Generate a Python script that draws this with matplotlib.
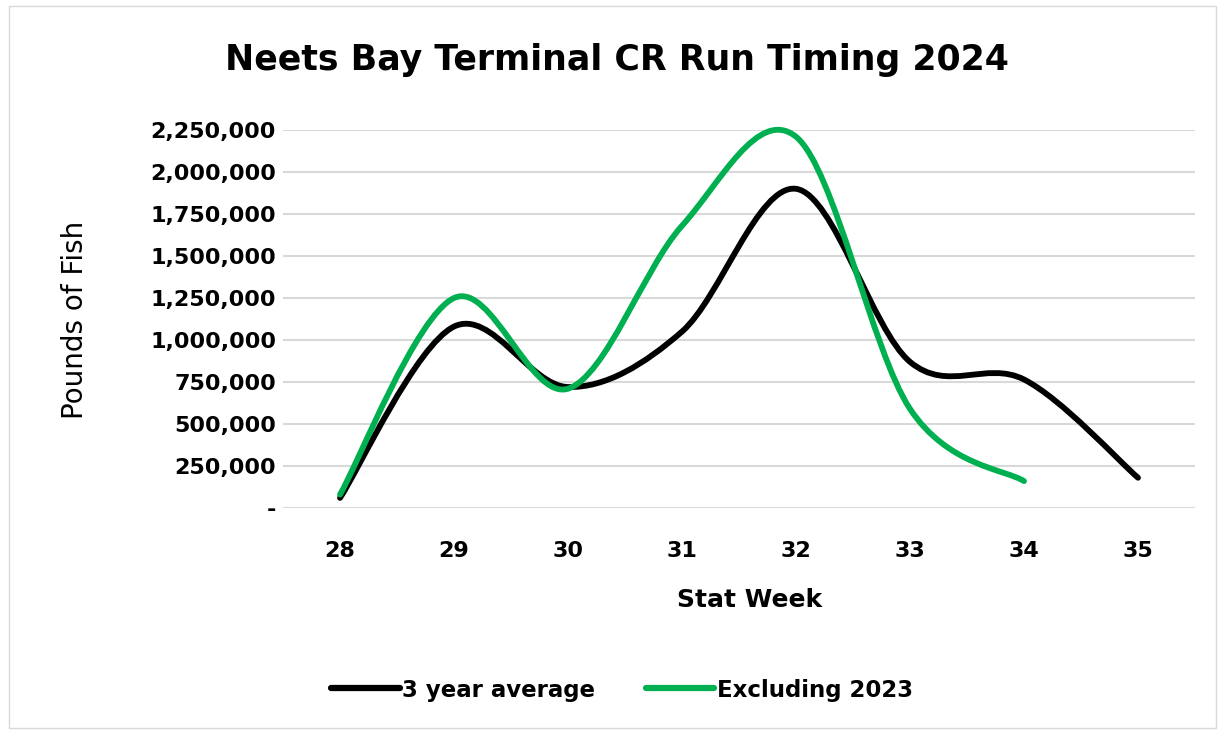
#!/usr/bin/env python3

import matplotlib
matplotlib.use('Agg')
import matplotlib.pyplot as plt
from matplotlib.path import Path
from matplotlib.patches import PathPatch, Rectangle
from matplotlib.lines import Line2D
from matplotlib.ticker import FuncFormatter

# ─── Data ──────────────────────────────────────────────────────────────────────
WEEKS_AVG = [28, 29, 30, 31, 32, 33, 34, 35]
AVG_3YR = [60000, 1080000, 720000, 1050000, 1900000, 870000, 765000, 180000]

WEEKS_EXCL = [28, 29, 30, 31, 32, 33, 34]
EXCL_2023 = [80000, 1250000, 710000, 1680000, 2210000, 590000, 160000]

Y_TICKS = [0, 250000, 500000, 750000, 1000000, 1250000, 1500000,
           1750000, 2000000, 2250000]

FONT = ['DejaVu Sans']
BLACK = '#000000'
GREEN = '#00B050'


def smooth_path(xs, ys):
    """Excel-style smoothed line: cubic Bezier segments through each point."""
    pts = list(zip(xs, ys))
    verts = [pts[0]]
    codes = [Path.MOVETO]
    n = len(pts)
    for i in range(n - 1):
        p0 = pts[i - 1] if i > 0 else pts[i]
        p1 = pts[i]
        p2 = pts[i + 1]
        p3 = pts[i + 2] if i + 2 < n else pts[i + 1]
        c1 = (p1[0] + (p2[0] - p0[0]) / 6, p1[1] + (p2[1] - p0[1]) / 6)
        c2 = (p2[0] - (p3[0] - p1[0]) / 6, p2[1] - (p3[1] - p1[1]) / 6)
        verts += [c1, c2, p2]
        codes += [Path.CURVE4] * 3
    return Path(verts, codes)


fig = plt.figure(figsize=(12.22, 7.34), dpi=100)
fig.patch.set_facecolor('white')
fig.patches.append(Rectangle((0.007, 0.008), 0.988, 0.984, transform=fig.transFigure,
                             fill=False, edgecolor='#D9D9D9', linewidth=1))

ax = fig.add_axes([283 / 1222, 1 - 508 / 734, (1195 - 283) / 1222, (508 - 130) / 734])
ax.set_xlim(27.5, 35.5)
ax.set_ylim(0, 2250000)

for yv in Y_TICKS:
    ax.axhline(yv, color='#D9D9D9', linewidth=1.5, zorder=0)

for xs, ys, col in [(WEEKS_AVG, AVG_3YR, BLACK), (WEEKS_EXCL, EXCL_2023, GREEN)]:
    ax.add_patch(PathPatch(smooth_path(xs, ys), facecolor='none', edgecolor=col,
                           linewidth=4.2, capstyle='round', joinstyle='round',
                           clip_on=False, zorder=3))

for s in ax.spines.values():
    s.set_visible(False)
ax.tick_params(length=0)
ax.set_xticks(WEEKS_AVG)
ax.set_xticklabels([str(w) for w in WEEKS_AVG], fontfamily=FONT,
                   fontweight='bold', fontsize=16)
ax.tick_params(axis='x', pad=24)
ax.set_yticks(Y_TICKS)
ax.yaxis.set_major_formatter(FuncFormatter(lambda v, p: '-' if v == 0 else f'{int(v):,}'))
for lab in ax.get_yticklabels():
    lab.set_fontfamily(FONT)
    lab.set_fontweight('bold')
    lab.set_fontsize(16)
ax.tick_params(axis='y', pad=5)

fig.text(617 / 1222, 1 - 60 / 734, 'Neets Bay Terminal CR Run Timing 2024',
         ha='center', va='center', fontfamily=FONT, fontweight='bold', fontsize=25)
fig.text(750 / 1222, 1 - 600 / 734, 'Stat Week', ha='center', va='center',
         fontfamily=FONT, fontweight='bold', fontsize=18)
fig.text(75 / 1222, 1 - 320 / 734, 'Pounds of Fish', ha='center', va='center',
         rotation=90, fontfamily=FONT, fontsize=20)

handles = [Line2D([], [], color=BLACK, linewidth=4.5, solid_capstyle='round'),
           Line2D([], [], color=GREEN, linewidth=4.5, solid_capstyle='round')]
fig.legend(handles, ['3 year average', 'Excluding 2023'], loc='center',
           bbox_to_anchor=(622 / 1222, 1 - 690 / 734), ncol=2, frameon=False,
           handlelength=3.0, handletextpad=0.1, columnspacing=2.2,
           prop={'family': FONT, 'weight': 'bold', 'size': 16.5})

fig.savefig('out.png', dpi=100)
